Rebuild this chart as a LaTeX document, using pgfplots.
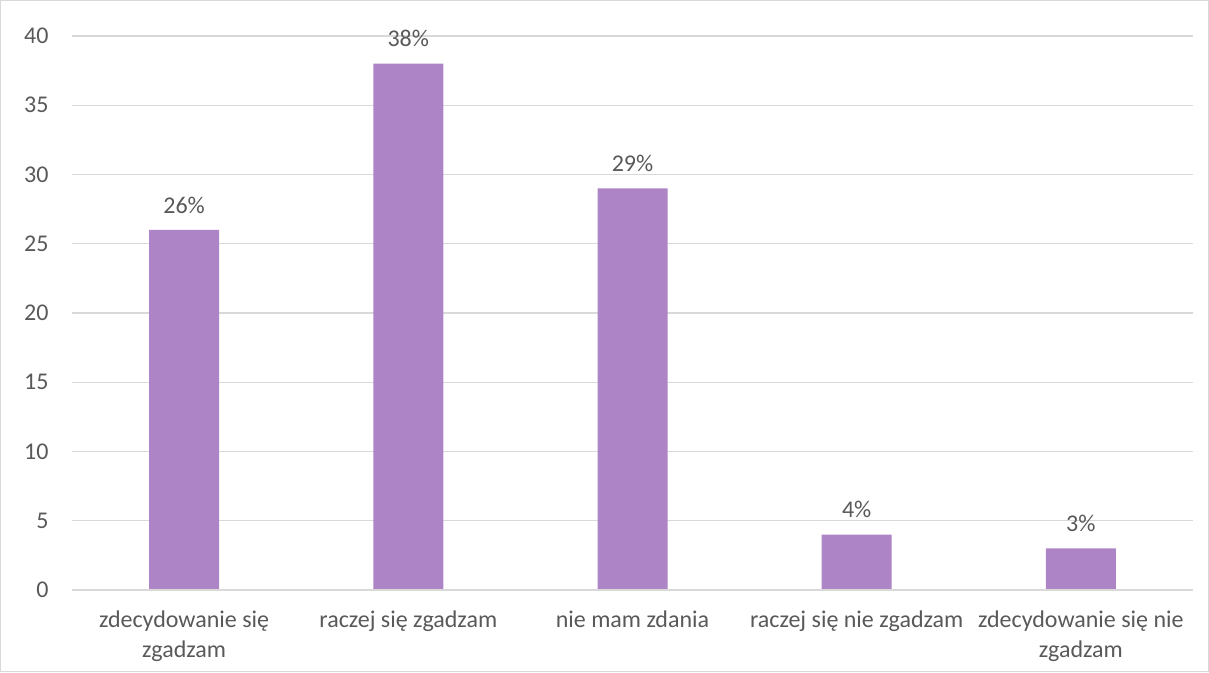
\documentclass[border=0pt]{standalone}
\usepackage{pgfplots}
\pgfplotsset{compat=1.18}
\usepackage{fontspec}
\setmainfont{Carlito}
\definecolor{barc}{HTML}{AD84C6}
\definecolor{txt}{HTML}{595959}
\definecolor{grd}{HTML}{D9D9D9}
\begin{document}
\begin{tikzpicture}[x=1pt,y=1pt]
\draw[grd, line width=1.2pt] (0.6,0.6) rectangle (1208.4,671.4);
\begin{axis}[
  at={(72pt,82pt)}, anchor=south west,
  scale only axis, width=1121pt, height=554pt,
  xmin=-0.5, xmax=4.5, ymin=0, ymax=40,
  ytick={0,5,...,40},
  xtick=data,
  xticklabels={{zdecydowanie się\\zgadzam},{raczej się zgadzam},{nie mam zdania},{raczej się nie zgadzam},{zdecydowanie się nie\\zgadzam}},
  axis line style={draw=none},
  ymajorgrids, grid style={grd, line width=1.2pt},
  major tick length=0pt,
  tick style={draw=none},
  /pgf/number format/assume math mode=true,
  ticklabel style={font=\fontsize{24}{30}\selectfont, text=txt},
  yticklabel style={anchor=east, xshift=-20pt},
  xticklabel style={align=center, anchor=north, yshift=-17pt},
  ybar, bar width=70pt,
  nodes near coords={\pgfmathprintnumber{\pgfplotspointmeta}\%},
  every node near coord/.append style={font=\fontsize{24}{28}\selectfont, text=txt, yshift=13pt},
  clip=false,
]
\addplot[fill=barc, draw=none] coordinates {(0,26) (1,38) (2,29) (3,4) (4,3)};
\draw[grd, line width=1.2pt] (rel axis cs:0,0) -- (rel axis cs:1,0);
\end{axis}
\end{tikzpicture}
\end{document}
